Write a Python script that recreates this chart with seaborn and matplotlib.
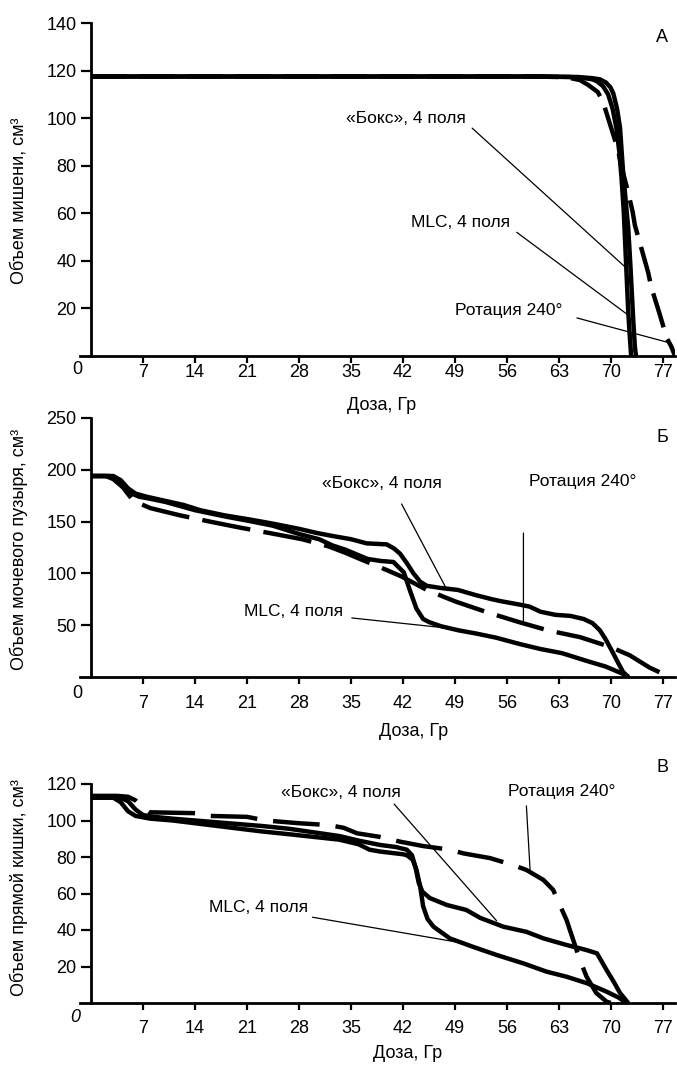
import matplotlib
matplotlib.use("Agg")
import matplotlib.pyplot as plt
import pandas as pd
import seaborn as sns

# ---------------- data: dose (Gy) vs. organ volume (cm3) ----------------
plans = ["«Бокс», 4 поля", "MLC, 4 поля", "Ротация 240°"]

# Panel A - target volume
dose_box_a = [0, 20, 40, 60, 64.5, 66.5, 67.5, 68.1, 68.9, 69.6, 70.2, 70.7, 71.1, 71.4,
              71.7, 71.9, 72.1, 72.3, 72.5, 72.7]
vol_box_a = [117.5, 117.5, 117.5, 117.5, 117.3, 116.8, 116.3, 115.5, 113.5, 110, 104, 96,
             86, 75, 61, 47, 33, 19, 9, 0]
dose_mlc_a = [0, 20, 40, 60, 65.5, 67.5, 68.5, 69.3, 69.9, 70.3, 70.8, 71.2, 71.6, 72.0,
              72.3, 72.6, 72.8, 73.0, 73.2, 73.35]
vol_mlc_a = [117.5, 117.5, 117.5, 117.5, 117.3, 116.8, 116.3, 115, 113, 110.4, 104, 96,
             78, 64, 54, 38, 26, 14, 4, 0]
dose_rot_a = [0, 20, 40, 60, 64, 65.8, 66.9, 68.2, 68.9, 69.9, 70.9, 71.4, 72.2, 72.9,
              73.2, 74.1, 75.0, 75.4, 76.5, 77.5, 78.1, 78.6]
vol_rot_a = [117.5, 117.5, 117.5, 117.5, 117.2, 116, 114, 111, 107, 97, 87, 79.5, 70,
             60.6, 55, 45, 35, 29, 18, 7.5, 4, 0]

# Panel B - bladder
dose_box_b = [0, 3.0, 4.0, 5.0, 6.0, 7.5, 10, 12.5, 14.7, 18, 21.4, 24.5, 28, 30.4, 32.6,
              35, 37.1, 39.8, 40.8, 41.6, 42.5, 43.4, 44.3, 45.2, 47, 49.4, 51.8, 54,
              55.3, 57.6, 59, 60.5, 62.5, 64.5, 66.3, 67.5, 68.5, 69.3, 70.2, 71.0, 71.6,
              72.3]
vol_box_b = [194, 194, 190, 182, 177, 174, 170, 166, 161, 156, 152, 148, 143, 139, 136,
             133, 129, 128, 124, 119, 110, 100, 92, 88, 86, 84, 79, 75, 73, 70, 68, 63,
             60, 59, 56, 52, 45, 36, 24, 13, 5, 0]
dose_mlc_b = [0, 2.5, 3.5, 4.5, 5.5, 6.5, 8, 10, 14, 18, 21, 24.5, 28, 30.7, 32.5, 34.2,
              37.2, 39, 40.7, 42.1, 43, 43.8, 44.7, 45.5, 47.1, 49.5, 51.8, 54.5, 57.6,
              60.5, 63.4, 66.5, 69.3, 71.6, 72.4]
vol_mlc_b = [194, 194, 190, 183, 177, 174, 172, 169, 161, 155, 151, 146, 138, 133, 127,
             123, 114, 112, 111, 101, 82, 66, 56, 53, 49, 45, 42, 38, 32, 27, 23, 16, 10,
             3, 0]
dose_rot_b = [0, 2.0, 3.0, 4.3, 5.7, 8, 12, 16, 20.2, 24, 28.4, 32, 34.2, 36.5, 38.9,
              41.8, 45.2, 49, 53.3, 57.6, 61.5, 65.8, 69.9, 72.5, 75.2, 77.9]
vol_rot_b = [194, 194, 191, 183, 170, 163, 156, 150, 144, 139, 133, 126, 120, 113, 106,
             97, 84, 73, 62.5, 53, 45, 38.5, 29, 21, 9, 0]

# Panel C - rectum
dose_box_c = [0, 4.0, 5.0, 6.0, 7.0, 8.5, 11, 14, 17, 20, 23, 26.6, 30, 33.4, 36, 38.9,
              41, 42.5, 43.2, 43.7, 44.1, 44.6, 45.6, 47.9, 50.5, 52.4, 55.5, 58.6, 60.9,
              64, 66.7, 68.1, 69.4, 70.3, 71.2, 72.3]
vol_box_c = [112.5, 112.5, 110.5, 106, 103, 102, 101, 100, 99, 98, 97, 95.5, 93.5, 91.5,
             89, 86.6, 85.5, 84, 81, 74, 66, 61, 57.5, 53.7, 51, 46.6, 41.8, 39, 35.4,
             31.8, 29, 27.2, 18, 12, 5.5, 0]
dose_mlc_c = [0, 3.0, 4.0, 5.0, 6.0, 8, 11, 14, 17, 20, 23, 26.6, 30, 33.4, 36, 37.5,
              38.9, 42, 42.5, 43.3, 43.8, 44.3, 44.7, 45.3, 46.1, 48.3, 51.4, 54.6, 58.2,
              61.3, 64, 66.7, 69.4, 71, 72.1]
vol_mlc_c = [112.5, 112.5, 110, 105, 102.5, 101, 100, 98.5, 97, 95.5, 94, 92.5, 91, 89.5,
             87, 84, 83, 81.5, 81, 78.5, 73, 64, 53, 46, 41.8, 35.4, 30.8, 26.3, 21.7,
             17.2, 14.4, 10.9, 6.2, 3, 0]
dose_rot_c = [0, 3.5, 5.0, 6.0, 6.6, 7.9, 14.2, 16, 21, 23.5, 28, 32, 34, 35.8, 38.9,
              41.6, 44.7, 48.3, 50.1, 53.7, 56.8, 58.6, 60.9, 62.2, 63.1, 64, 65.8, 66.7,
              68, 69.4, 70.0]
vol_rot_c = [113.5, 113.5, 113, 111, 108.5, 104.5, 104, 102.5, 102, 100, 98.5, 97.5, 96,
             93, 91, 88.4, 86, 84, 82, 79.4, 75.6, 72.9, 67.4, 62, 53.7, 45.5, 23.6, 14.4,
             5.5, 0.7, 0]

x_ticks = [7, 14, 21, 28, 35, 42, 49, 56, 63, 70, 77]
x_label = "Доза, Гр"
y_labels = ["Объем мишени, см³", "Объем мочевого пузыря, см³", "Объем прямой кишки, см³"]
panel_letters = ["А", "Б", "В"]

# ---------------- style ----------------
sns.set_theme(style="white")
plt.rcParams["font.family"] = ["Liberation Sans", "DejaVu Sans"]
for key in ["text.color", "axes.labelcolor", "xtick.color", "ytick.color", "axes.edgecolor"]:
    plt.rcParams[key] = "black"

W, H = 677, 1067
fig = plt.figure(figsize=(W / 100, H / 100), dpi=100)

X0_PX, PX_PER_GY = 91.0, 7.43
XLIM = (-1.5, 78.6)


def fx(px):
    return px / W


def fy(py):
    return 1 - py / H


def make_axes(top_px, bottom_px):
    left = X0_PX + XLIM[0] * PX_PER_GY
    width = (XLIM[1] - XLIM[0]) * PX_PER_GY
    return fig.add_axes([fx(left), fy(bottom_px), width / W, (bottom_px - top_px) / H])


panels = [
    dict(top=23, bottom=356, ylim=140, yticks=[20, 40, 60, 80, 100, 120, 140],
         series=[(dose_box_a, vol_box_a), (dose_mlc_a, vol_mlc_a), (dose_rot_a, vol_rot_a)],
         dash=(8, 2.8), tickpad=1.0, zero_off=(-14, -14), zero_italic=False,
         xlabel_px=(382, 406), ylabel_px=(19, 201), letter_px=(662, 37),
         notes=[((42.4, 100), (51.3, 95.8), (71.9, 37.4)),
                ((49.8, 56.3), (57.3, 52), (72.3, 17.2)),
                ((56.2, 19.3), (65.4, 16), (77.9, 5.5))]),
    dict(top=418, bottom=677, ylim=250, yticks=[50, 100, 150, 200, 250],
         series=[(dose_box_b, vol_box_b), (dose_mlc_b, vol_mlc_b), (dose_rot_b, vol_rot_b)],
         dash=(11, 3.0), tickpad=8.0, zero_off=(-14, -16), zero_italic=False,
         xlabel_px=(414, 731), ylabel_px=(19, 549), letter_px=(662, 437),
         notes=[((39.2, 187), (41.8, 167), (47.7, 87)),
                ((27.3, 63), (35.1, 57), (48.2, 47)),
                ((66.2, 189), (58.2, 139), (58.2, 53))]),
    dict(top=784, bottom=1003, ylim=120, yticks=[20, 40, 60, 80, 100, 120],
         series=[(dose_box_c, vol_box_c), (dose_mlc_c, vol_mlc_c), (dose_rot_c, vol_rot_c)],
         dash=(10.5, 3.6), tickpad=7.0, zero_off=(-16, -14), zero_italic=True,
         xlabel_px=(408, 1053), ylabel_px=(19, 888), letter_px=(662, 767),
         notes=[((33.7, 115.4), (40.8, 109), (54.6, 45)),
                ((22.5, 52.5), (29.8, 47), (50.5, 32.5)),
                ((63.3, 116), (58.6, 108), (59.1, 72.5))]),
]

for i, p in enumerate(panels):
    ax = make_axes(p["top"], p["bottom"])
    frames = [pd.DataFrame({"dose": d, "volume": v, "plan": name})
              for name, (d, v) in zip(plans, p["series"])]
    df = pd.concat(frames, ignore_index=True)
    sns.lineplot(data=df, x="dose", y="volume", hue="plan", style="plan",
                 hue_order=plans, style_order=plans,
                 palette={n: "black" for n in plans},
                 dashes={plans[0]: "", plans[1]: "", plans[2]: p["dash"]},
                 linewidth=3.2, estimator=None, sort=False, legend=False, ax=ax)
    for line in ax.get_lines():
        line.set_solid_capstyle("butt")
        line.set_dash_capstyle("butt")

    ax.set_xlim(*XLIM)
    ax.set_ylim(0, p["ylim"])
    ax.set_xticks(x_ticks)
    ax.set_yticks(p["yticks"])
    sns.despine(ax=ax)
    ax.spines["left"].set_position(("data", 0))
    for s in ("left", "bottom"):
        ax.spines[s].set_linewidth(2.0)
    ax.tick_params(axis="y", left=True, direction="out", length=7, width=1.6,
                   pad=3.5, labelsize=13)
    ax.tick_params(axis="x", bottom=True, direction="out", length=5, width=1.6,
                   pad=p["tickpad"], labelsize=13)

    ax.annotate("0", xy=(0, 0), xycoords="data", xytext=p["zero_off"],
                textcoords="offset pixels", ha="center", va="center", fontsize=13,
                style="italic" if p["zero_italic"] else "normal", annotation_clip=False)

    ax.set_xlabel(x_label, fontsize=13)
    ax.xaxis.label.set_va("center")
    ax.xaxis.set_label_coords(fx(p["xlabel_px"][0]), fy(p["xlabel_px"][1]),
                              transform=fig.transFigure)
    ax.set_ylabel(y_labels[i], fontsize=13)
    ax.yaxis.label.set_va("center")
    ax.yaxis.set_label_coords(fx(p["ylabel_px"][0]), fy(p["ylabel_px"][1]),
                              transform=fig.transFigure)

    fig.text(fx(p["letter_px"][0]), fy(p["letter_px"][1]), panel_letters[i],
             ha="center", va="center", fontsize=13)

    for name, (txt_xy, start, end) in zip(plans, p["notes"]):
        ax.text(txt_xy[0], txt_xy[1], name, ha="center", va="center", fontsize=12.5)
        ax.annotate("", xy=end, xytext=start, xycoords="data", textcoords="data",
                    arrowprops=dict(arrowstyle="-", color="black", lw=0.9,
                                    shrinkA=0, shrinkB=0))

fig.savefig("out.png", dpi=100)
